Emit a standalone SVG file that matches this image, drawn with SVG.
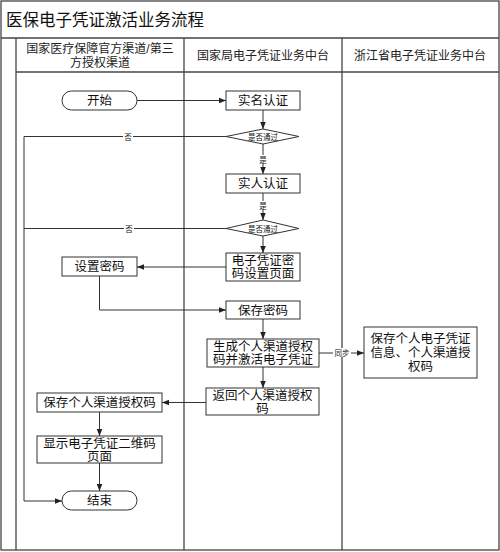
<svg xmlns="http://www.w3.org/2000/svg" width="500" height="552" viewBox="0 0 500 552">
<style>
.t{font-family:"Liberation Sans","Noto Sans CJK SC",sans-serif;fill:#111;text-anchor:middle}
.n{font-size:12.5px}
.h{font-size:12px;fill:#222}
.s{font-size:7.5px}
.box{fill:#fff;stroke:#333;stroke-width:1}
.ln{fill:none;stroke:#333;stroke-width:1}
.fr{fill:none;stroke:#444;stroke-width:1.3}
</style>
<defs>
<marker id="ah" viewBox="0 0 10 10" refX="10" refY="5" markerWidth="7" markerHeight="7" orient="auto" markerUnits="userSpaceOnUse">
<path d="M0,1 L10,5 L0,9 z" fill="#222"/>
</marker>
</defs>
<rect width="500" height="552" fill="#fff"/>
<g id="frame">
<rect class="fr" x="1" y="1" width="498" height="549"/>
<line class="fr" x1="1" y1="38" x2="499" y2="38"/>
<line class="fr" x1="16" y1="72" x2="499" y2="72"/>
<line class="fr" x1="16" y1="38" x2="16" y2="550"/>
<line class="fr" x1="184" y1="38" x2="184" y2="550"/>
<line class="fr" x1="342" y1="38" x2="342" y2="550"/>
<text class="t" x="6" y="26" style="font-size:16.5px;text-anchor:start">医保电子凭证激活业务流程</text>
<text class="t h" x="100" y="53">国家医疗保障官方渠道/第三</text>
<text class="t h" x="100" y="67">方授权渠道</text>
<text class="t h" x="263" y="60">国家局电子凭证业务中台</text>
<text class="t h" x="420" y="60">浙江省电子凭证业务中台</text>
</g>
<g id="connectors">
<path class="ln" d="M137,100.5 H226" marker-end="url(#ah)"/>
<path class="ln" d="M263,110 V129" marker-end="url(#ah)"/>
<path class="ln" d="M263,144 V174" marker-end="url(#ah)"/>
<path class="ln" d="M263,193 V220" marker-end="url(#ah)"/>
<path class="ln" d="M263,236 V253" marker-end="url(#ah)"/>
<path class="ln" d="M226,136.5 H24 V501 H62" marker-end="url(#ah)"/>
<path class="ln" d="M226,228.5 H24"/>
<path class="ln" d="M226,267 H137" marker-end="url(#ah)"/>
<path class="ln" d="M99.5,276 V310 H226" marker-end="url(#ah)"/>
<path class="ln" d="M263,319 V339" marker-end="url(#ah)"/>
<path class="ln" d="M319,353 H364" marker-end="url(#ah)"/>
<path class="ln" d="M263,367 V388" marker-end="url(#ah)"/>
<path class="ln" d="M206,402.5 H162" marker-end="url(#ah)"/>
<path class="ln" d="M99.5,412 V436" marker-end="url(#ah)"/>
<path class="ln" d="M99.5,463 V491" marker-end="url(#ah)"/>
<rect x="123" y="132" width="10" height="9" fill="#fff"/>
<text class="t s" x="128" y="139.5">否</text>
<rect x="124" y="224" width="10" height="9" fill="#fff"/>
<text class="t s" x="129" y="231.5">否</text>
<rect x="258" y="155" width="10" height="9" fill="#fff"/>
<text class="t s" x="263" y="162.5">是</text>
<rect x="258" y="201" width="10" height="9" fill="#fff"/>
<text class="t s" x="263" y="208.5">是</text>
<rect x="333" y="348" width="18" height="9" fill="#fff"/>
<text class="t s" x="342" y="355.5">同步</text>
</g>
<g id="start"><rect class="box" x="62" y="91" width="75" height="19" rx="9.5"/><text class="t n" x="99.5" y="105">开始</text></g>
<g id="realname"><rect class="box" x="226" y="91" width="74" height="19"/><text class="t n" x="263" y="105">实名认证</text></g>
<g id="dec1"><polygon class="box" points="226,136.5 263,129 299,136.5 263,144"/><text class="t s" x="263" y="139.5">是否通过</text></g>
<g id="realperson"><rect class="box" x="226" y="174" width="74" height="19"/><text class="t n" x="263" y="188">实人认证</text></g>
<g id="dec2"><polygon class="box" points="226,228.5 263,220 299,228.5 263,236"/><text class="t s" x="263" y="231.5">是否通过</text></g>
<g id="pwdpage"><rect class="box" x="226" y="253" width="74" height="28"/><text class="t n" x="263" y="265">电子凭证密</text><text class="t n" x="263" y="278">码设置页面</text></g>
<g id="setpwd"><rect class="box" x="62" y="257" width="75" height="19"/><text class="t n" x="99.5" y="271">设置密码</text></g>
<g id="savepwd"><rect class="box" x="226" y="301" width="74" height="18"/><text class="t n" x="263" y="314.5">保存密码</text></g>
<g id="gen"><rect class="box" x="207" y="339" width="112" height="28"/><text class="t n" x="263" y="351">生成个人渠道授权</text><text class="t n" x="263" y="364">码并激活电子凭证</text></g>
<g id="zjsave"><rect class="box" x="364" y="327" width="113" height="51"/><text class="t n" x="420.5" y="343">保存个人电子凭证</text><text class="t n" x="420.5" y="357">信息、个人渠道授</text><text class="t n" x="420.5" y="371">权码</text></g>
<g id="ret"><rect class="box" x="206" y="388" width="113" height="27"/><text class="t n" x="262.5" y="400">返回个人渠道授权</text><text class="t n" x="262.5" y="413">码</text></g>
<g id="savecode"><rect class="box" x="37" y="393" width="125" height="19"/><text class="t n" x="99.5" y="407">保存个人渠道授权码</text></g>
<g id="show"><rect class="box" x="37" y="436" width="125" height="27"/><text class="t n" x="99.5" y="448">显示电子凭证二维码</text><text class="t n" x="99.5" y="461">页面</text></g>
<g id="end"><rect class="box" x="62" y="491" width="75" height="19" rx="9.5"/><text class="t n" x="99.5" y="505">结束</text></g>
</svg>
